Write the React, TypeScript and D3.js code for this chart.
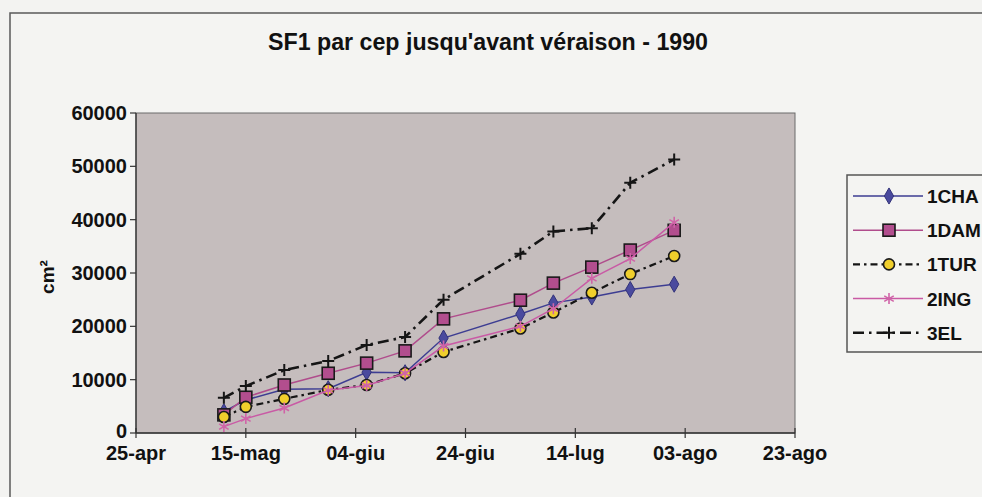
import React from 'react'
import * as d3 from 'd3'

// measurement dates (1990)
const dates = [
  '1990-05-11', '1990-05-15', '1990-05-22', '1990-05-30', '1990-06-06', '1990-06-13',
  '1990-06-20', '1990-07-04', '1990-07-10', '1990-07-17', '1990-07-24', '1990-08-01',
]

const cha = [4000, 6200, 8200, 8300, 11400, 11300, 17800, 22300, 24400, 25500, 26900, 27900]
const dam = [3400, 6700, 9000, 11200, 13100, 15400, 21400, 24900, 28100, 31100, 34300, 38000]
const tur = [3000, 4900, 6400, 8100, 9000, 11200, 15200, 19600, 22600, 26300, 29800, 33200]
const ing = [1200, 2700, 4700, 8000, 8900, 11200, 16300, 20000, 23300, 29000, 32700, 39500]
const el3 = [6600, 8800, 11800, 13500, 16500, 18000, 25000, 33600, 37800, 38400, 46900, 51300]

const tickDates = ['1990-04-25', '1990-05-15', '1990-06-04', '1990-06-24', '1990-07-14', '1990-08-03', '1990-08-23']
const tickLabels = ['25-apr', '15-mag', '04-giu', '24-giu', '14-lug', '03-ago', '23-ago']
const yTicks = [0, 10000, 20000, 30000, 40000, 50000, 60000]

const parse = d3.timeParse('%Y-%m-%d')

const series = [
  { name: '1CHA', values: cha, color: '#3d3d92', width: 1.5, dash: null, marker: 'diamond' },
  { name: '1DAM', values: dam, color: '#b04c8c', width: 1.5, dash: null, marker: 'square' },
  { name: '1TUR', values: tur, color: '#151515', width: 2.2, dash: '7,4,2.5,4', marker: 'circle' },
  { name: '2ING', values: ing, color: '#c95aa5', width: 1.5, dash: null, marker: 'star' },
  { name: '3EL', values: el3, color: '#151515', width: 2.6, dash: '11,5,2.5,5', marker: 'plus' },
]

function Marker({ type, x, y }: { type: string; x: number; y: number }) {
  if (type === 'diamond') {
    const p = d3.symbol().type(d3.symbolDiamond).size(75)()
    return <path d={p as string} transform={`translate(${x},${y})`} fill="#4a4a9e" stroke="#33337a" strokeWidth={1} />
  }
  if (type === 'square') {
    return <rect x={x - 6} y={y - 6} width={12} height={12} fill="#b24e8e" stroke="#1a1a1a" strokeWidth={1.6} />
  }
  if (type === 'circle') {
    return <circle cx={x} cy={y} r={5.5} fill="#f0cf2c" stroke="#1a1a1a" strokeWidth={1.6} />
  }
  if (type === 'star') {
    const r = 5.5
    const d = [0, 60, 120]
      .map((a) => {
        const t = ((a + 90) * Math.PI) / 180
        return `M${x - r * Math.cos(t)},${y - r * Math.sin(t)}L${x + r * Math.cos(t)},${y + r * Math.sin(t)}`
      })
      .join('')
    return <path d={d} stroke="#d064a8" strokeWidth={1.6} fill="none" />
  }
  const r = 6
  return <path d={`M${x - r},${y}L${x + r},${y}M${x},${y - r}L${x},${y + r}`} stroke="#151515" strokeWidth={2} fill="none" />
}

export default function App() {
  const width = 982
  const height = 497
  const left = 136
  const right = 795
  const top = 113
  const bottom = 433

  const x = d3.scaleTime().domain([parse(tickDates[0])!, parse(tickDates[tickDates.length - 1])!]).range([left, right])
  const y = d3.scaleLinear().domain([0, 60000]).range([bottom, top])

  const line = d3
    .line<number>()
    .x((_, i) => x(parse(dates[i])!))
    .y((v) => y(v))

  const font = '"Liberation Sans", Arial, sans-serif'

  return (
    <div style={{ position: 'fixed', left: 0, top: 0 }}>
      <svg width={width} height={height} style={{ display: 'block', fontFamily: font }}>
        <rect x={0} y={0} width={width} height={height} fill="#f3f3f1" />
        <rect x={10} y={13} width={990} height={500} fill="#f4f4f2" stroke="#5a5a5a" strokeWidth={1.5} />

        <text x={488} y={50} textAnchor="middle" fontSize={23} fontWeight="bold" fill="#111" textLength={440} lengthAdjust="spacingAndGlyphs">
          SF1 par cep jusqu'avant véraison - 1990
        </text>

        <rect x={left} y={top} width={right - left} height={bottom - top} fill="#c5bdbd" stroke="#6a6a6a" strokeWidth={1} />

        {/* y axis */}
        <line x1={left} x2={left} y1={top} y2={bottom} stroke="#333" strokeWidth={1.3} />
        {yTicks.map((t) => (
          <g key={t}>
            <line x1={left - 6} x2={left} y1={y(t)} y2={y(t)} stroke="#333" strokeWidth={1.2} />
            <text x={127} y={y(t) + (t === 0 ? 5 : 7)} textAnchor="end" fontSize={20} fontWeight="bold" fill="#111">
              {t}
            </text>
          </g>
        ))}
        <text transform={`translate(54,277) rotate(-90)`} textAnchor="middle" fontSize={19} fontWeight="bold" fill="#111">
          cm²
        </text>

        {/* x axis */}
        <line x1={left} x2={right} y1={bottom} y2={bottom} stroke="#333" strokeWidth={1.3} />
        {tickDates.map((d, i) => {
          const xp = x(parse(d)!)
          return (
            <g key={d}>
              <line x1={xp} x2={xp} y1={bottom - 5} y2={bottom + 5} stroke="#333" strokeWidth={1.2} />
              <text x={xp} y={460} textAnchor="middle" fontSize={20} fontWeight="bold" fill="#111">
                {tickLabels[i]}
              </text>
            </g>
          )
        })}

        {/* series */}
        {series.map((s) => (
          <g key={s.name}>
            <path d={line(s.values) as string} fill="none" stroke={s.color} strokeWidth={s.width} strokeDasharray={s.dash ?? undefined} />
            {s.values.map((v, i) => (
              <Marker key={i} type={s.marker} x={x(parse(dates[i])!)} y={y(v)} />
            ))}
          </g>
        ))}

        {/* legend */}
        <rect x={847} y={175} width={150} height={177} fill="#f4f4f2" stroke="#555" strokeWidth={1.5} />
        {series.map((s, i) => {
          const ly = 196 + i * 34.2
          return (
            <g key={s.name}>
              <line x1={853} x2={923} y1={ly} y2={ly} stroke={s.color} strokeWidth={s.width} strokeDasharray={s.dash ?? undefined} />
              <Marker type={s.marker} x={889} y={ly} />
              <text x={927} y={ly + 7} fontSize={19} fontWeight="bold" fill="#111">
                {s.name}
              </text>
            </g>
          )
        })}
      </svg>
    </div>
  )
}
